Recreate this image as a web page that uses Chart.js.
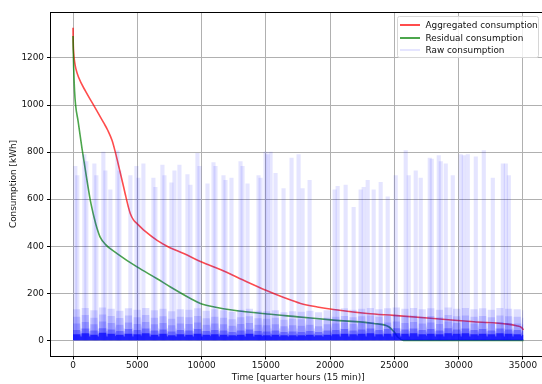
<!DOCTYPE html>
<html><head><meta charset="utf-8">
<script src="https://cdn.jsdelivr.net/npm/chart.js@4.4.0/dist/chart.umd.min.js"></script>
<style>
html,body{margin:0;padding:0;background:#fff;overflow:hidden;width:542px;height:384px;}
#wrap{position:relative;width:542px;height:384px;overflow:hidden;}
canvas{position:absolute;left:0;top:0;}
#legend{position:absolute;left:396.5px;top:16px;width:142.5px;height:41.5px;box-sizing:border-box;border:1px solid #d6d6d6;border-radius:2.5px;background:rgba(255,255,255,0.8);font:8.9px "DejaVu Sans";color:#111;}
.row{position:absolute;left:0;width:140px;height:12px;}
.sw{position:absolute;left:2px;top:5px;width:20px;height:2px;}
.tx{position:absolute;left:28px;top:0;line-height:12px;white-space:nowrap;}
</style></head>
<body>
<div id="wrap">
<canvas id="c" width="547" height="384"></canvas>
<div id="legend"></div>
</div>
<script>
// ---------------- data ----------------
const xTicks = [0, 5000, 10000, 15000, 20000, 25000, 30000, 35000];
const yTicks = [0, 200, 400, 600, 800, 1000, 1200];

// Aggregated consumption (sorted, descending)
const aggX = [0,8,25,60,120,220,440,960,1600,2380,2700,3040,3290,3600,3850,4070,4300,4460,4700,4980,5600,6540,7500,8610,10000,11500,13550,15000,16500,17700,19000,20270,22900,24950,28060,31180,33800,34500,34900,35039];
const aggY = [1329,1290,1250,1215,1185,1155,1117,1060,1000,925,893,849,800,730,672,620,568,538,512,496,464,425,395,369,333,300,248,213,180,157,142,131,114,106,93,79,69,62,54,44];

// Residual consumption (sorted, descending)
const resX = [0,15,50,120,200,400,700,1000,1350,1650,1870,2100,2515,3430,4980,6540,7580,9140,9910,11000,12500,15100,17500,20270,23390,24560,24970,25300,25700,35039];
const resY = [1293,1240,1160,1060,1000,930,815,710,594,520,475,440,408,369,312,262,227,178,157,142,128,112,100,86,72,58,36,12,0,0];

// Raw consumption: tall peaks
const spikeX = [179,335,880,1036,1659,1814,2360,2516,2905,3450,3606,4462,4930,5085,5475,6253,6409,6954,7110,7655,7888,8278,8901,9134,9679,9835,10458,10925,11081,11704,11860,12327,13028,13184,13573,14430,14586,14975,15131,15365,15754,16377,17000,17545,17857,18402,20349,20583,21206,21829,22374,22608,22919,23387,23932,24477,25100,25879,26113,26658,27047,27748,27904,28449,28605,28994,29539,30162,30396,30707,31330,31953,32654,33433,33666,33900];
const spikeY = [740,700,790,760,750,700,800,720,640,805,720,700,740,690,750,690,650,745,700,670,720,745,705,660,795,740,665,755,740,700,680,690,760,740,665,700,690,800,790,800,710,645,775,790,645,680,640,655,660,565,640,650,680,640,672,610,700,806,700,720,690,775,770,785,760,750,700,790,785,790,780,806,690,750,750,700];

// Raw consumption: weekly band levels (one value per week), in layers
const weekLen = 672;            // quarter hours per week
const lastX = 35039;
const bandL1 = [132,138,128,140,134,126,136,130,138,128,134,124,132, 130,136,126,132,128,122,130,134,126,124,128,120,124, 122,126,120,128,132,136,130,134,138,132,136,140,134, 138,132,136,130,140,134,138,132,136,130,138,134,132,128];
const bandL2 = [100,108,96,110,104,95,106,98,108,96,102,92,100, 98,104,94,100,96,90,98,102,94,92,96,88,92, 90,94,88,96,100,104,98,102,106,100,104,108,102, 106,100,104,98,108,102,106,100,104,98,106,102,100,96];
const bandL3 = [72,78,68,80,74,66,76,70,78,68,74,64,72, 70,76,66,72,68,62,70,74,66,64,68,60,64, 62,66,60,68,72,76,70,74,78,72,76,80,74, 78,72,76,70,80,74,78,72,76,70,78,74,72,68];
const bandL4 = [44,50,42,52,46,40,48,44,50,42,46,38,44, 42,48,40,44,42,36,42,46,40,38,42,36,38, 36,40,36,42,44,48,42,46,50,44,48,52,46, 50,44,48,42,52,46,50,44,48,42,50,46,44,40];
const bandL5 = [26,30,24,32,28,24,28,26,30,24,28,22,26, 24,28,24,26,24,22,24,28,24,22,24,22,22, 22,24,22,24,26,28,26,28,30,26,28,30,28, 30,26,28,26,30,28,30,26,28,26,30,28,26,24];
const bandGap = [50, 40, 32, 26, 16];   // off-day level per layer
const bandAlpha = [0.13, 0.14, 0.17, 0.3, 0.7];

const seriesNames = ['Aggregated consumption', 'Residual consumption', 'Raw consumption'];
const seriesColors = ['rgba(255,0,0,0.7)', 'rgba(0,128,0,0.7)', 'rgba(0,0,255,0.1)'];

// ---------------- build ----------------
function pts(xs, ys) { return xs.map((x, i) => ({x: x, y: ys[i]})); }
function weekly(levels, gap) {
  const out = [];
  levels.forEach((v, w) => {
    const s = w * weekLen;
    if (s + weekLen <= lastX) {
      out.push({x: s, y: v}, {x: s + 560, y: v}, {x: s + 590, y: gap}, {x: s + 650, y: gap});
    } else {
      out.push({x: s, y: v}, {x: lastX, y: v});
    }
  });
  return out;
}

const datasets = [];
[bandL5, bandL4, bandL3, bandL2, bandL1].forEach((arr, k) => {
  const li = 4 - k;
  datasets.push({
    type: 'line', label: 'raw' + li, data: weekly(arr, bandGap[li]),
    borderWidth: 0, pointRadius: 0, fill: 'origin', tension: 0,
    backgroundColor: 'rgba(0,0,255,' + bandAlpha[li] + ')', borderColor: 'rgba(0,0,0,0)'
  });
});
datasets.push({
  type: 'bar', label: 'rawSpikes', data: pts(spikeX, spikeY),
  backgroundColor: seriesColors[2], borderWidth: 0, barThickness: 3.5, grouped: false
});
datasets.push({
  type: 'line', label: seriesNames[1], data: pts(resX, resY),
  borderColor: seriesColors[1], borderWidth: 1.6, pointRadius: 0, fill: false,
  cubicInterpolationMode: 'monotone'
});
datasets.push({
  type: 'line', label: seriesNames[0], data: pts(aggX, aggY),
  borderColor: seriesColors[0], borderWidth: 1.6, pointRadius: 0, fill: false,
  cubicInterpolationMode: 'monotone'
});

const font = {family: 'DejaVu Sans', size: 8.9};
const yMax = Math.max(...aggY), yMin = 0;
const yPad = (yMax - yMin) * 0.05;
const xPad = lastX * 0.05;

const topSpine = {
  id: 'topSpine',
  afterDraw(chart) {
    const {ctx, chartArea: a} = chart;
    ctx.save();
    ctx.strokeStyle = '#000'; ctx.lineWidth = 1;
    ctx.beginPath();
    ctx.moveTo(a.left, Math.round(a.top) + 0.5);
    ctx.lineTo(a.right, Math.round(a.top) + 0.5);
    ctx.stroke();
    ctx.restore();
  }
};

new Chart(document.getElementById('c'), {
  type: 'line',
  data: {datasets: datasets},
  plugins: [topSpine],
  options: {
    responsive: false, animation: false, events: [],
    layout: {padding: {left: 0, top: 12, right: 1, bottom: 0}},
    plugins: {legend: {display: false}, tooltip: {enabled: false}},
    scales: {
      x: {
        type: 'linear', min: -xPad, max: lastX + xPad, offset: false,
        afterBuildTicks: s => { s.ticks = xTicks.map(v => ({value: v})); },
        afterFit: s => { s.height = 28; },
        grid: {offset: false, color: '#b0b0b0', lineWidth: 1, drawTicks: true, tickLength: 3.5, tickColor: '#000', tickWidth: 1},
        border: {display: true, color: '#000', width: 1},
        ticks: {font: font, color: '#111', padding: 1, maxRotation: 0, autoSkip: false, callback: v => String(v)},
        title: {display: true, text: 'Time [quarter hours (15 min)]', font: font, color: '#111', padding: {top: 0, bottom: 1.3}}
      },
      y: {
        type: 'linear', min: yMin - yPad, max: yMax + yPad,
        afterBuildTicks: s => { s.ticks = yTicks.map(v => ({value: v})); },
        afterFit: s => { s.width = 50.5; },
        grid: {offset: false, color: '#b0b0b0', lineWidth: 1, drawTicks: true, tickLength: 3.5, tickColor: '#000', tickWidth: 1},
        border: {display: true, color: '#000', width: 1},
        ticks: {font: font, color: '#111', padding: 3, autoSkip: false, callback: v => String(v)},
        title: {display: true, text: 'Consumption [kWh]', font: font, color: '#111', padding: {top: 8, bottom: 0}}
      }
    }
  }
});

// legend (HTML)
const lg = document.getElementById('legend');
seriesNames.forEach((name, i) => {
  const row = document.createElement('div');
  row.className = 'row';
  row.style.top = (2 + i * 12.5) + 'px';
  const sw = document.createElement('div');
  sw.className = 'sw'; sw.style.background = seriesColors[i];
  const tx = document.createElement('div');
  tx.className = 'tx'; tx.textContent = name;
  row.appendChild(sw); row.appendChild(tx); lg.appendChild(row);
});
</script>
</body></html>
